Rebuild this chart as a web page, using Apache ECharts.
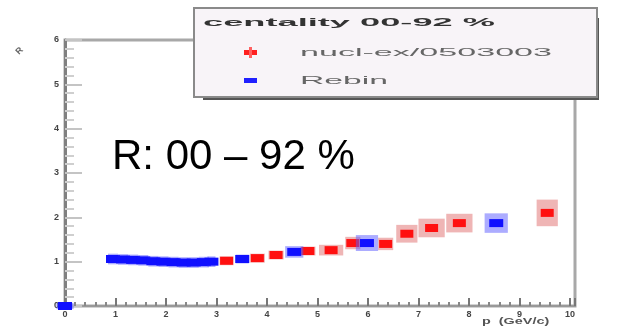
<!DOCTYPE html>
<html>
<head>
<meta charset="utf-8">
<script src="https://cdn.jsdelivr.net/npm/echarts@6/dist/echarts.min.js"></script>
<style>
  html, body { margin: 0; padding: 0; background: #fff; }
  #ratioChart { width: 627px; height: 328px; }
</style>
</head>
<body>
<div id="ratioChart"></div>
<script>
// red points: nucl-ex/0503003 (x, y, x half-width of error box, y half-height)
var redX = [3.2, 3.81, 4.18, 4.81, 5.27, 5.7, 6.35, 6.77, 7.26, 7.81, 9.55];
var redY = [1.02, 1.08, 1.15, 1.24, 1.26, 1.42, 1.4, 1.63, 1.76, 1.87, 2.1];
var redDx = [0.14, 0.15, 0.15, 0.15, 0.24, 0.15, 0.15, 0.21, 0.26, 0.26, 0.21];
var redDy = [0.1, 0.1, 0.1, 0.1, 0.12, 0.14, 0.14, 0.2, 0.21, 0.21, 0.3];

// blue points: Rebin
var blueX = [0, 0.95, 1.15, 1.35, 1.55, 1.75, 1.95, 2.15, 2.35, 2.55, 2.75, 2.9, 3.51, 4.54, 5.98, 8.54];
var blueY = [0, 1.06, 1.05, 1.04, 1.03, 1.01, 1.0, 0.99, 0.98, 0.98, 0.99, 1.0, 1.06, 1.22, 1.42, 1.87];
var blueDx = [0.17, 0.1, 0.1, 0.1, 0.1, 0.1, 0.1, 0.1, 0.1, 0.1, 0.1, 0.08, 0.13, 0.18, 0.22, 0.23];
var blueDy = [0.07, 0.12, 0.12, 0.12, 0.12, 0.12, 0.12, 0.12, 0.12, 0.12, 0.12, 0.12, 0.1, 0.13, 0.18, 0.22];

var xTicks = [0, 1, 2, 3, 4, 5, 6, 7, 8, 9, 10];
var yTicks = [0, 1, 2, 3, 4, 5, 6];

var legendTitle = "centality 00-92 %";
var redName = "nucl-ex/0503003";
var blueName = "Rebin";
var bigLabel = "R: 00 \u2013 92 %";

function toRows(xs, ys, dxs, dys) {
  var rows = [];
  for (var i = 0; i < xs.length; i++) {
    rows.push([xs[i], ys[i], dxs[i], dys[i]]);
  }
  return rows;
}

// stretch a text horizontally so it spans a given pixel width
var measureCtx = document.createElement("canvas").getContext("2d");
function fitScale(text, font, targetW) {
  measureCtx.font = font;
  return targetW / measureCtx.measureText(text).width;
}

function boxRenderer(haloFill, coreFill, coreW, coreH) {
  return function (params, api) {
    var x = api.value(0), y = api.value(1), dx = api.value(2), dy = api.value(3);
    var p0 = api.coord([x - dx, y + dy]);
    var p1 = api.coord([x + dx, y - dy]);
    var c = api.coord([x, y]);
    return {
      type: "group",
      children: [
        {
          type: "rect",
          shape: { x: p0[0], y: p0[1], width: p1[0] - p0[0], height: p1[1] - p0[1] },
          style: { fill: haloFill }
        },
        {
          type: "rect",
          shape: { x: c[0] - coreW / 2, y: c[1] - coreH / 2, width: coreW, height: coreH },
          style: { fill: coreFill }
        }
      ]
    };
  };
}

var dom = document.getElementById("ratioChart");
var myChart = echarts.init(dom);

var smallFont = "11px 'Liberation Sans'";
var boldFont = "bold 11px 'Liberation Sans'";

var option = {
  animation: false,
  grid: {
    left: 65,
    right: 52,
    top: 40,
    bottom: 22,
    show: true,
    borderColor: "#a8a8a8",
    borderWidth: 3,
    backgroundColor: "#fff"
  },
  xAxis: {
    type: "value",
    min: 0,
    max: 10.1,
    interval: 1,
    axisLine: { show: true, onZero: false, lineStyle: { color: "#999", width: 2 } },
    axisTick: { show: true, inside: true, length: 8, lineStyle: { color: "#777", width: 2 } },
    minorTick: { show: true, splitNumber: 5, length: 4, lineStyle: { color: "#888", width: 2 } },
    splitLine: { show: false },
    axisLabel: {
      color: "#444",
      fontSize: 9,
      fontWeight: "bold",
      margin: 4,
      formatter: function (v) { return xTicks.indexOf(v) >= 0 ? String(v) : ""; }
    }
  },
  yAxis: {
    type: "value",
    min: 0,
    max: 6,
    interval: 1,
    axisLine: { show: true, onZero: false, lineStyle: { color: "#808080", width: 3 } },
    axisTick: { show: true, inside: true, length: 17, lineStyle: { color: "#c4c4c4", width: 2 } },
    minorTick: { show: true, splitNumber: 5, length: 9, lineStyle: { color: "#cfcfcf", width: 2 } },
    splitLine: { show: false },
    axisLabel: {
      color: "#444",
      fontSize: 9,
      fontWeight: "bold",
      margin: 6,
      formatter: function (v) { return yTicks.indexOf(v) >= 0 ? String(v) : ""; }
    }
  },
  series: [
    {
      type: "custom",
      name: redName,
      clip: false,
      z: 3,
      renderItem: boxRenderer("rgba(225, 120, 120, 0.55)", "#ff1010", 13, 8),
      encode: { x: 0, y: 1 },
      data: toRows(redX, redY, redDx, redDy)
    },
    {
      type: "custom",
      name: blueName,
      clip: false,
      z: 4,
      renderItem: boxRenderer("rgba(90, 90, 255, 0.5)", "#1010ff", 14, 8),
      encode: { x: 0, y: 1 },
      data: toRows(blueX, blueY, blueDx, blueDy)
    }
  ],
  graphic: [
    {
      type: "text",
      left: 112,
      top: 136,
      z: 10,
      style: {
        text: bigLabel,
        font: "42px 'Liberation Sans'",
        fill: "#000"
      }
    },
    // legend box with ROOT-like shadow
    {
      type: "rect",
      z: 20,
      shape: { x: 203, y: 18, width: 396, height: 82 },
      style: { fill: "#555" }
    },
    {
      type: "rect",
      z: 21,
      shape: { x: 194, y: 8, width: 403, height: 89 },
      style: { fill: "#f8f4f8", stroke: "#8a8a8a", lineWidth: 2 }
    },
    {
      type: "text",
      z: 22,
      x: 203,
      y: 23,
      scaleX: fitScale(legendTitle, boldFont, 292),
      style: { text: legendTitle, font: boldFont, fill: "#333", textVerticalAlign: "middle" }
    },
    {
      type: "rect",
      z: 22,
      shape: { x: 244, y: 50, width: 13, height: 5 },
      style: { fill: "#ff2020" }
    },
    {
      type: "rect",
      z: 22,
      shape: { x: 249, y: 47, width: 3, height: 11 },
      style: { fill: "#ff6060" }
    },
    {
      type: "text",
      z: 22,
      x: 300,
      y: 53,
      scaleX: fitScale(redName, smallFont, 252),
      style: { text: redName, font: smallFont, fill: "#666", textVerticalAlign: "middle" }
    },
    {
      type: "rect",
      z: 22,
      shape: { x: 244, y: 78, width: 13, height: 5 },
      style: { fill: "#2020ff" }
    },
    {
      type: "text",
      z: 22,
      x: 300,
      y: 81,
      scaleX: fitScale(blueName, smallFont, 88),
      style: { text: blueName, font: smallFont, fill: "#666", textVerticalAlign: "middle" }
    },
    // axis titles
    {
      type: "text",
      z: 10,
      x: 14,
      y: 50,
      rotation: Math.PI / 4,
      style: { text: "R", font: "bold 9px 'Liberation Sans'", fill: "#666" }
    },
    {
      type: "text",
      z: 10,
      x: 482,
      y: 317,
      scaleX: 1.6,
      style: { text: "p  (GeV/c)", font: "bold 9px 'Liberation Sans'", fill: "#555" }
    }
  ]
};

myChart.setOption(option, true);
</script>
</body>
</html>
